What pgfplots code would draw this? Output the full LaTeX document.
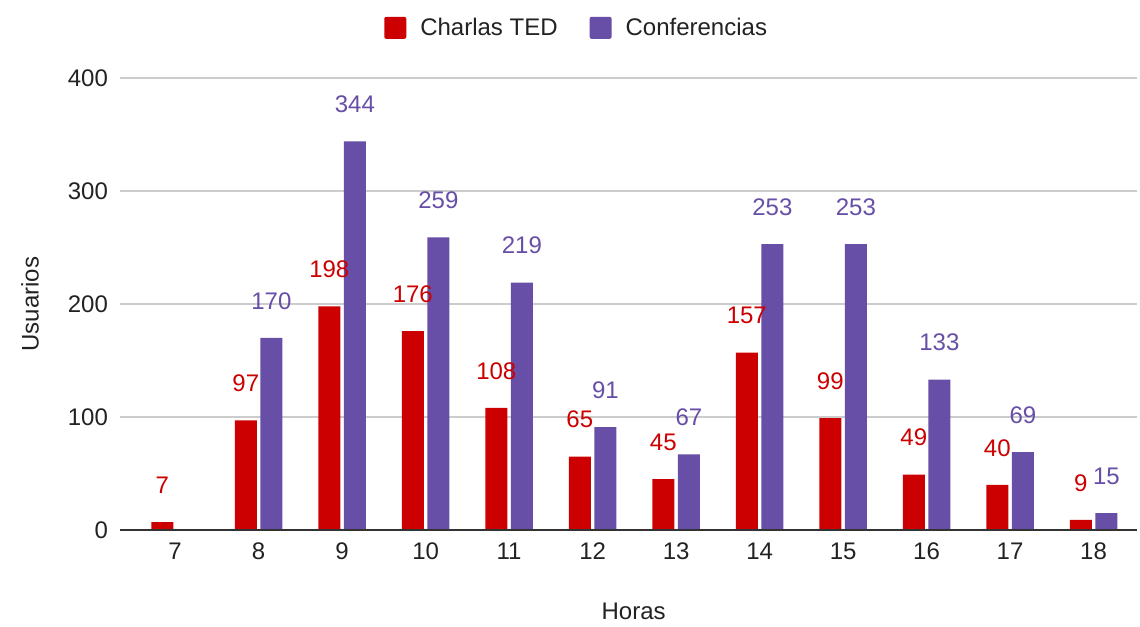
\documentclass[border=0pt]{standalone}
\usepackage{pgfplots}
\pgfplotsset{compat=1.18}
\usepackage{fontspec}
\setmainfont{Liberation Sans}
\definecolor{tedred}{HTML}{CC0000}
\definecolor{confpurple}{HTML}{674EA7}
\definecolor{gridgray}{HTML}{CCCCCC}
\definecolor{txt}{HTML}{222222}
\begin{document}
\begin{tikzpicture}
\begin{axis}[
  at={(0,0)}, anchor=south west,
  scale only axis,
  width=508.5pt, height=226pt,
  ybar, bar width=11pt,
  xmin=6.34, xmax=18.52,
  ymin=0, ymax=400,
  xtick={7,...,18},
  ytick={0,100,200,300,400},
  axis line style={draw=none},
  axis x line*=bottom,
  major tick length=0pt,
  ymajorgrids, grid style={gridgray, line width=0.6pt},
  tick label style={font=\fontsize{12}{14}\selectfont, text=txt},
  /pgf/number format/assume math mode=true,
  xticklabel style={yshift=-3pt},
  yticklabel style={xshift=-2.5pt},
  xlabel={Horas}, ylabel={Usuarios},
  label style={font=\fontsize{12}{14}\selectfont, text=txt},
  xlabel style={at={(axis description cs:0.505,-0.181)}, anchor=center},
  ylabel style={at={(axis description cs:-0.0885,0.5)}, anchor=center},
  legend columns=2,
  legend style={draw=none, at={(0.45,1.111)}, anchor=center,
    font=\fontsize{12}{14}\selectfont, text=txt,
    /tikz/every even column/.append style={column sep=14pt}},
  legend image code/.code={\fill[#1,draw=none,rounded corners=1pt] (0pt,-5.5pt) rectangle (11pt,5.5pt); \path (16pt,0pt);},
  nodes near coords,
  every node near coord/.append style={anchor=center, yshift=18.5pt, font=\fontsize{12}{14}\selectfont},
  clip=false,
]
\addplot[fill=tedred, draw=none, bar shift=-6.4pt, nodes near coords style={text=tedred}] coordinates {
 (7,7) (8,97) (9,198) (10,176) (11,108) (12,65) (13,45) (14,157) (15,99) (16,49) (17,40) (18,9)};
\addplot[fill=confpurple, draw=none, bar shift=6.4pt, nodes near coords style={text=confpurple}] coordinates {
 (8,170) (9,344) (10,259) (11,219) (12,91) (13,67) (14,253) (15,253) (16,133) (17,69) (18,15)};
\legend{Charlas TED, Conferencias}
\draw[color=black!80, line width=0.8pt] (axis cs:6.34,0) -- (axis cs:18.52,0);
\end{axis}
\path[use as bounding box] (-60pt,-48pt) rectangle (510pt,265pt);
\end{tikzpicture}
\end{document}
